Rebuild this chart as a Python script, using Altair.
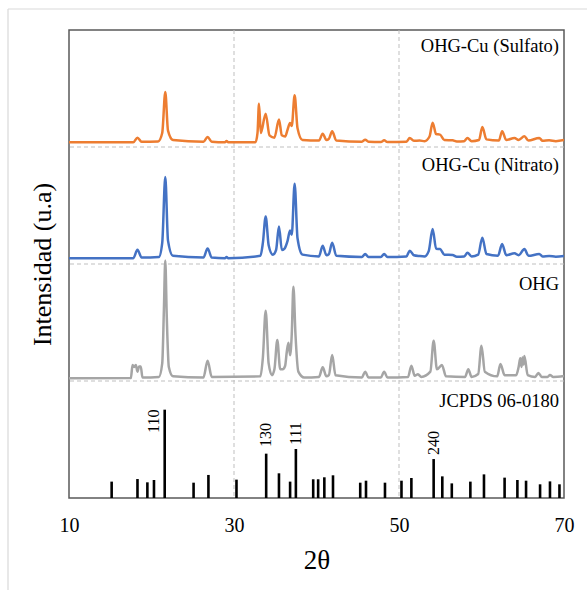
import altair as alt
import pandas as pd

# ---------------- data ----------------
sulfato_2t = [10, 17.8, 18.3, 18.8, 20.8, 21.3, 21.67, 22.0, 22.6, 26.3, 26.8, 27.3, 28.9, 29.1, 29.3,
              32.6, 32.85, 33.03, 33.25, 33.84, 34.3, 34.9, 35.45, 35.8, 36.2, 36.5, 36.79, 37.0, 37.35,
              37.7, 38.3, 40.3, 40.75, 41.2, 41.5, 41.9, 42.4, 45.5, 45.9, 46.3, 47.8, 48.2, 48.6, 50.9,
              51.3, 51.8, 52.5, 53.1, 53.7, 54.08, 54.5, 54.97, 55.5, 56.5, 57.0, 57.9, 58.3, 58.8, 59.7,
              60.1, 60.6, 62.1, 62.5, 63.0, 64.0, 64.5, 65.2, 65.7, 67.0, 67.4, 68.2, 69.0, 70]
sulfato_i = [4, 4, 8, 4.5, 4.8, 12, 47, 14, 6, 4.5, 8.5, 4.5, 4, 5.1, 4,
             4, 12, 37, 12, 28.5, 10, 8, 23.4, 10, 9, 15, 20.5, 18, 44.2,
             16, 6, 5.5, 11.4, 6, 7, 13.4, 5.5, 4.5, 6.3, 4.5, 4.3, 5.7, 4.3, 4.5,
             7.7, 5.3, 5.5, 5, 9, 20.8, 11, 10.6, 6, 5.7, 4.8, 5, 7.7, 5, 6,
             17.1, 6.5, 5.5, 13.4, 6, 7.7, 6, 9.1, 5.5, 7.7, 5.3, 5.7, 5, 6]

nitrato_2t = [10, 17.8, 18.3, 18.8, 20.9, 21.3, 21.67, 22.0, 22.6, 26.3, 26.8, 27.3, 28.9, 29.1, 29.3,
              33.2, 33.5, 33.84, 34.2, 34.7, 35.1, 35.45, 35.8, 36.1, 36.5, 36.79, 37.0, 37.35, 37.7,
              38.3, 40.3, 40.75, 41.2, 41.5, 41.9, 42.4, 45.5, 45.9, 46.3, 47.8, 48.2, 48.6, 50.9, 51.3,
              51.8, 52.5, 53.1, 53.6, 54.08, 54.5, 54.97, 55.5, 56.5, 57.0, 57.9, 58.3, 58.8, 59.6, 60.1,
              60.6, 62.0, 62.5, 63.0, 64.0, 64.5, 65.2, 65.7, 67.0, 67.4, 68.2, 69.0, 70]
nitrato_i = [4.9, 5, 12.2, 5.5, 6, 18, 74.4, 20, 7, 5.5, 13.3, 5.5, 5, 6, 5,
             7, 18, 40.7, 16, 8, 12, 32.1, 12, 13, 20, 28.7, 25, 68.6, 22,
             8, 6.5, 15.6, 7.5, 8.5, 18.2, 7, 6, 8.5, 6, 6, 8.5, 6, 6.5, 11.4,
             7.5, 6.8, 6.5, 11, 29.9, 13, 12.8, 8, 7.7, 6.3, 6.5, 9.7, 6.5, 8, 22.5,
             8.5, 7, 17.1, 7.5, 9.1, 7.5, 12.8, 7, 8.5, 6.5, 6.8, 6.3, 6.8]

ohg_2t = [10, 17.5, 17.7, 17.9, 18.1, 18.3, 18.5, 18.7, 18.9, 20.9, 21.3, 21.5, 21.67, 21.85, 22.1, 22.6,
          26.3, 26.8, 27.3, 33.2, 33.5, 33.84, 34.2, 34.6, 34.9, 35.25, 35.6, 35.9, 36.2, 36.4, 36.6,
          36.8, 37.0, 37.2, 37.45, 37.8, 38.5, 40.3, 40.75, 41.2, 41.5, 41.9, 42.3, 45.5, 45.9, 46.3,
          47.8, 48.2, 48.6, 51.1, 51.5, 51.9, 52.3, 52.7, 53.8, 54.2, 54.6, 55.2, 55.7, 58.0, 58.4,
          58.8, 59.6, 60.0, 60.4, 61.9, 62.3, 62.8, 64.2, 64.5, 64.7, 64.85, 64.97, 65.1, 65.2, 65.6,
          66.5, 66.9, 67.3, 68.0, 68.3, 68.7, 70]
ohg_i = [2.3, 2.5, 13.7, 12, 13.7, 8, 12.5, 12.5, 3, 3.5, 15, 60, 103, 55, 12, 4,
         3, 17.4, 3.5, 4, 20, 60.1, 15, 5, 10, 35, 10, 10, 13, 25, 32.7,
         22, 40, 80.6, 40, 8, 3, 3.5, 11.7, 4, 5, 22.2, 5, 3, 8, 3,
         3, 8, 3, 3.5, 13.1, 4.5, 5.7, 3.5, 8, 34.4, 10, 13.7, 4, 3.5, 10,
         3.5, 6, 30.2, 8, 4, 14.5, 5, 5, 12, 19.4, 12, 20, 14, 21.4, 5,
         3.5, 6.8, 3.5, 3.5, 5.1, 3.5, 4.3]

jcpds_2t = [15.17, 18.3, 19.5, 20.3, 21.6, 25.1, 26.9, 30.3, 33.9, 35.45, 36.8, 37.5, 39.6, 40.2,
            40.95, 42.0, 45.3, 46.0, 48.3, 50.3, 51.5, 54.2, 55.25, 56.4, 58.65, 60.3, 62.8, 64.35,
            65.4, 67.1, 68.3, 69.45]
jcpds_i = [14, 16.2, 13.4, 15.4, 75.5, 13.1, 19.7, 15.7, 37.9, 21.1, 14, 41.9, 16, 16,
           17.7, 19.4, 13.1, 14.8, 13.1, 14.8, 17.1, 33.3, 18.5, 12.5, 14, 20.2, 17.4, 15.4,
           14.8, 11.7, 14.2, 11.7]

hkl_labels = ["110", "130", "111", "240"]
hkl_2t = [20.3, 33.85, 37.55, 54.2]
hkl_y = [55.6, 43.6, 45.3, 36.8]

series_names = ["OHG-Cu (Sulfato)", "OHG-Cu (Nitrato)", "OHG", "JCPDS 06-0180"]
series_offsets = [300, 200, 100, 0]
series_colors = ["#ED7D31", "#4472C4", "#A5A5A5", "#000000"]
name_label_y = [386, 284.5, 183, 82.5]

grid_2t = [30, 50]
x_ticks = [10, 30, 50, 70]

# ---------------- build tables ----------------
frames = []
for name, off, xs, ys in [(series_names[0], series_offsets[0], sulfato_2t, sulfato_i),
                          (series_names[1], series_offsets[1], nitrato_2t, nitrato_i),
                          (series_names[2], series_offsets[2], ohg_2t, ohg_i)]:
    frames.append(pd.DataFrame({"two_theta": xs, "y": [v + off for v in ys], "serie": name}))
lines_df = pd.DataFrame(pd.concat(frames, ignore_index=True))

jcpds_df = pd.DataFrame({"two_theta": jcpds_2t, "y": jcpds_i, "y0": 0})
hkl_df = pd.DataFrame({"two_theta": hkl_2t, "y": hkl_y, "label": hkl_labels})
base_df = pd.DataFrame({"y": series_offsets[:3]})
grid_df = pd.DataFrame({"two_theta": grid_2t})
names_df = pd.DataFrame({"two_theta": [70] * 4, "y": name_label_y, "label": series_names})

FONT = "Liberation Serif"
xscale = alt.Scale(domain=[10, 70], nice=False, zero=False)
yscale = alt.Scale(domain=[0, 400], nice=False, zero=False)

x_axis = alt.Axis(values=x_ticks, grid=False, ticks=False, tickSize=0, domain=False,
                  labelFont=FONT, labelFontSize=20, labelColor="#000000", labelPadding=17,
                  labelFlush=False, title="2θ", titleFont=FONT, titleFontSize=27,
                  titleFontWeight="normal", titleColor="#000000", titlePadding=12)
y_axis = alt.Axis(labels=False, ticks=False, domain=False, grid=False,
                  title="Intensidad (u.a)", titleFont=FONT, titleFontSize=26,
                  titleFontWeight="normal", titleColor="#000000", titlePadding=14)

grid = alt.Chart(grid_df).mark_rule(color="#BFBFBF", strokeDash=[4, 3], strokeWidth=1).encode(
    x=alt.X("two_theta:Q", scale=xscale, axis=x_axis),
)
baselines = alt.Chart(base_df).mark_rule(color="#BFBFBF", strokeDash=[4, 3], strokeWidth=1).encode(
    y=alt.Y("y:Q", scale=yscale, axis=y_axis),
)
lines = alt.Chart(lines_df).mark_line(strokeWidth=2.5, interpolate="monotone", clip=True).encode(
    x=alt.X("two_theta:Q", scale=xscale),
    y=alt.Y("y:Q", scale=yscale),
    color=alt.Color("serie:N", scale=alt.Scale(domain=series_names, range=series_colors), legend=None),
    detail="serie:N",
)
bars = alt.Chart(jcpds_df).mark_rule(color="#000000", strokeWidth=2.6).encode(
    x=alt.X("two_theta:Q", scale=xscale),
    y=alt.Y("y0:Q", scale=yscale),
    y2="y:Q",
)
hkl = alt.Chart(hkl_df).mark_text(font=FONT, fontSize=16, angle=270, align="left",
                                  baseline="middle", color="#000000").encode(
    x=alt.X("two_theta:Q", scale=xscale),
    y=alt.Y("y:Q", scale=yscale),
    text="label:N",
)
names = alt.Chart(names_df).mark_text(font=FONT, fontSize=18.5, align="right", baseline="middle",
                                      dx=-5, color="#000000").encode(
    x=alt.X("two_theta:Q", scale=xscale),
    y=alt.Y("y:Q", scale=yscale),
    text="label:N",
)
# light outer figure border (left and top edges only are inside the picture)
frame_df = pd.DataFrame({"a": [0]})
outer_left = alt.Chart(frame_df).mark_rule(color="#D9D9D9", strokeWidth=1.2, clip=False).encode(
    x=alt.value(-61), y=alt.value(-21), y2=alt.value(600),
)
outer_top = alt.Chart(frame_df).mark_rule(color="#D9D9D9", strokeWidth=1.2, clip=False).encode(
    x=alt.value(-61), x2=alt.value(600), y=alt.value(-21),
)

chart = alt.layer(outer_left, outer_top, grid, baselines, lines, bars, hkl, names).properties(
    width=495, height=468,
    padding={"left": 69, "top": 30, "right": 23, "bottom": 92},
    autosize=alt.AutoSizeParams(type="none"),
).configure_view(stroke="#595959", strokeWidth=1.5)

chart.save("out.html", embed_options={"renderer": "svg", "actions": False})
